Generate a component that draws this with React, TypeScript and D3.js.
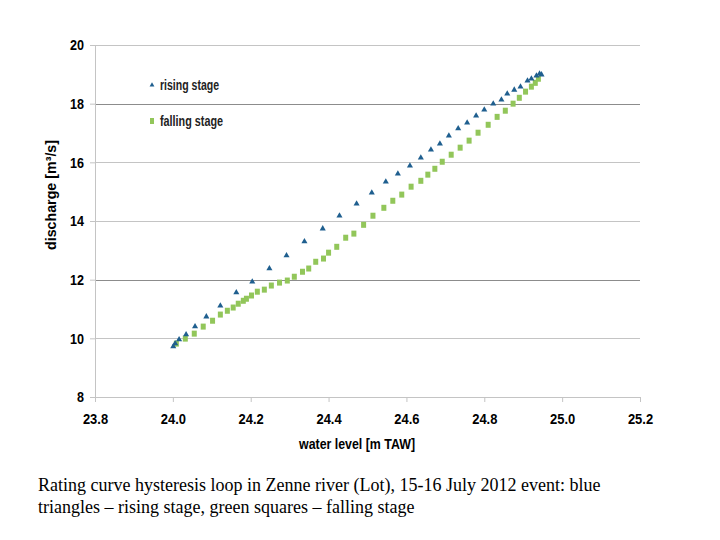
import { useRef, useEffect } from "react";
import * as d3 from "d3";

// rising stage (blue triangles): water level [m TAW], discharge [m3/s]
const risingLevel = [
  24.001, 24.006, 24.016, 24.034, 24.057, 24.086, 24.122, 24.163, 24.204, 24.248,
  24.292, 24.338, 24.385, 24.428, 24.472, 24.511, 24.547, 24.578, 24.609, 24.637,
  24.663, 24.686, 24.709, 24.733, 24.756, 24.779, 24.8, 24.823, 24.844, 24.859,
  24.877, 24.893, 24.911, 24.921, 24.934, 24.942, 24.947,
];
const risingQ = [
  9.72, 9.82, 9.96, 10.13, 10.4, 10.74, 11.11, 11.56, 11.93, 12.38,
  12.82, 13.3, 13.74, 14.18, 14.59, 14.96, 15.34, 15.61, 15.88, 16.16,
  16.43, 16.63, 16.91, 17.15, 17.35, 17.59, 17.79, 18.0, 18.13, 18.34,
  18.47, 18.58, 18.78, 18.85, 18.95, 19.02, 18.99,
];

// falling stage (green squares)
const fallingLevel = [
  24.009, 24.032, 24.055, 24.078, 24.102, 24.122, 24.14, 24.155, 24.168, 24.181,
  24.189, 24.202, 24.217, 24.235, 24.253, 24.274, 24.294, 24.312, 24.333, 24.349,
  24.367, 24.387, 24.4, 24.421, 24.444, 24.465, 24.49, 24.514, 24.542, 24.565,
  24.588, 24.612, 24.637, 24.655, 24.673, 24.692, 24.715, 24.738, 24.761, 24.784,
  24.81, 24.833, 24.854, 24.874, 24.89, 24.906, 24.921, 24.931, 24.939,
];
const fallingQ = [
  9.82, 9.99, 10.16, 10.4, 10.6, 10.81, 10.94, 11.05, 11.18, 11.28,
  11.35, 11.46, 11.59, 11.66, 11.8, 11.9, 11.97, 12.1, 12.27, 12.38,
  12.61, 12.72, 12.92, 13.12, 13.43, 13.57, 13.87, 14.18, 14.45, 14.69,
  14.9, 15.17, 15.37, 15.58, 15.78, 16.02, 16.26, 16.5, 16.74, 17.01,
  17.28, 17.55, 17.76, 18.0, 18.2, 18.41, 18.58, 18.71, 18.85,
];

const xTicks = [23.8, 24.0, 24.2, 24.4, 24.6, 24.8, 25.0, 25.2];
const yTicks = [8, 10, 12, 14, 16, 18, 20];
const legendLabels = ["rising stage", "falling stage"];
const captionLines = [
  "Rating curve hysteresis loop in Zenne river (Lot), 15-16 July 2012 event: blue",
  "triangles \u2013 rising stage, green squares \u2013 falling stage",
];

const BLUE = "#1f5f8f";
const GREEN = "#92c65a";
const FONT = "'Liberation Sans', Arial, sans-serif";

export default function App() {
  const svgRef = useRef<SVGSVGElement>(null);

  useEffect(() => {
    if (!svgRef.current) return;
    const svg = d3.select(svgRef.current);
    svg.selectAll("*").remove();

    const left = 95;
    const right = 640;
    const top = 45;
    const bottom = 397;

    const x = d3.scaleLinear().domain([23.8, 25.2]).range([left, right]);
    const y = d3.scaleLinear().domain([8, 20]).range([bottom, top]);

    // horizontal grid (Excel-style, some lines render darker)
    svg
      .append("g")
      .selectAll("line")
      .data(yTicks.filter((d) => d > 8))
      .join("line")
      .attr("x1", left)
      .attr("x2", right)
      .attr("y1", (d) => Math.round(y(d)) + 0.5)
      .attr("y2", (d) => Math.round(y(d)) + 0.5)
      .attr("stroke", (d) => (d === 18 || d === 12 ? "#8c8c8c" : "#c4c4c4"))
      .attr("stroke-width", 1);

    // condensed look for Calibri-like labels
    const squeeze = (sel: any, perChar: number) =>
      sel
        .attr("textLength", function (this: SVGTextElement) {
          return (this.textContent || "").length * perChar;
        })
        .attr("lengthAdjust", "spacingAndGlyphs");

    // Y axis
    const yAxis = svg
      .append("g")
      .attr("transform", `translate(${left},0)`)
      .call(d3.axisLeft(y).tickValues(yTicks).tickSize(5).tickPadding(6).tickFormat(d3.format("d")))
      .call((g) => g.selectAll(".domain").attr("stroke", "#c4c4c4"))
      .call((g) => g.selectAll(".tick line").attr("stroke", "#c4c4c4"))
      .selectAll("text")
      .attr("fill", "#000")
      .attr("font-size", 15)
      .attr("font-weight", "bold")
      .attr("font-family", FONT);
    squeeze(yAxis, 7);

    // X axis
    const xAxis = svg
      .append("g")
      .attr("transform", `translate(0,${bottom})`)
      .call(d3.axisBottom(x).tickValues(xTicks).tickSize(5).tickPadding(11).tickFormat(d3.format(".1f")))
      .call((g) => g.selectAll(".domain").attr("stroke", "#c4c4c4"))
      .call((g) => g.selectAll(".tick line").attr("stroke", "#c4c4c4"))
      .selectAll("text")
      .attr("fill", "#000")
      .attr("font-size", 15)
      .attr("font-weight", "bold")
      .attr("font-family", FONT);
    squeeze(xAxis, 6.3);

    // axis titles
    svg
      .append("text")
      .attr("transform", `translate(56,${(top + bottom) / 2 - 26}) rotate(-90)`)
      .attr("text-anchor", "middle")
      .attr("font-size", 14)
      .attr("font-weight", "bold")
      .attr("font-family", FONT)
      .attr("textLength", 110)
      .attr("lengthAdjust", "spacingAndGlyphs")
      .text("discharge [m\u00b3/s]");

    svg
      .append("text")
      .attr("x", 357)
      .attr("y", 449)
      .attr("text-anchor", "middle")
      .attr("font-size", 14)
      .attr("font-weight", "bold")
      .attr("font-family", FONT)
      .attr("textLength", 116)
      .attr("lengthAdjust", "spacingAndGlyphs")
      .text("water level [m TAW]");

    const tri = d3.symbol().type(d3.symbolTriangle).size(16);

    // falling stage squares
    svg
      .append("g")
      .selectAll("rect")
      .data(fallingLevel)
      .join("rect")
      .attr("x", (d) => x(d) - 2.5)
      .attr("y", (_, i) => y(fallingQ[i]) - 3)
      .attr("width", 5)
      .attr("height", 6)
      .attr("fill", GREEN);

    // rising stage triangles
    svg
      .append("g")
      .selectAll("path")
      .data(risingLevel)
      .join("path")
      .attr("d", tri)
      .attr("transform", (d, i) => `translate(${x(d)},${y(risingQ[i])})`)
      .attr("fill", BLUE);

    // legend
    const legend = svg.append("g");
    legend
      .append("path")
      .attr("d", d3.symbol().type(d3.symbolTriangle).size(10))
      .attr("transform", "translate(152,85)")
      .attr("fill", BLUE);
    legend
      .append("rect")
      .attr("x", 150)
      .attr("y", 118)
      .attr("width", 4)
      .attr("height", 6)
      .attr("fill", GREEN);
    legend
      .selectAll("text")
      .data(legendLabels)
      .join("text")
      .attr("x", 160)
      .attr("y", (_, i) => 90 + i * 36)
      .attr("font-size", 15)
      .attr("font-weight", "bold")
      .attr("font-family", FONT)
      .attr("fill", "#222")
      .attr("textLength", (_, i) => (i === 0 ? 59 : 63))
      .attr("lengthAdjust", "spacingAndGlyphs")
      .text((d) => d);

    // caption
    svg
      .append("g")
      .selectAll("text")
      .data(captionLines)
      .join("text")
      .attr("x", 38)
      .attr("y", (_, i) => 491 + i * 22)
      .attr("font-size", 18)
      .attr("font-family", "'Liberation Serif', 'Times New Roman', serif")
      .attr("fill", "#000")
      .text((d) => d);
  }, []);

  return (
    <svg
      ref={svgRef}
      width={720}
      height={540}
      style={{ position: "absolute", left: 0, top: 0, background: "#fff" }}
    />
  );
}
